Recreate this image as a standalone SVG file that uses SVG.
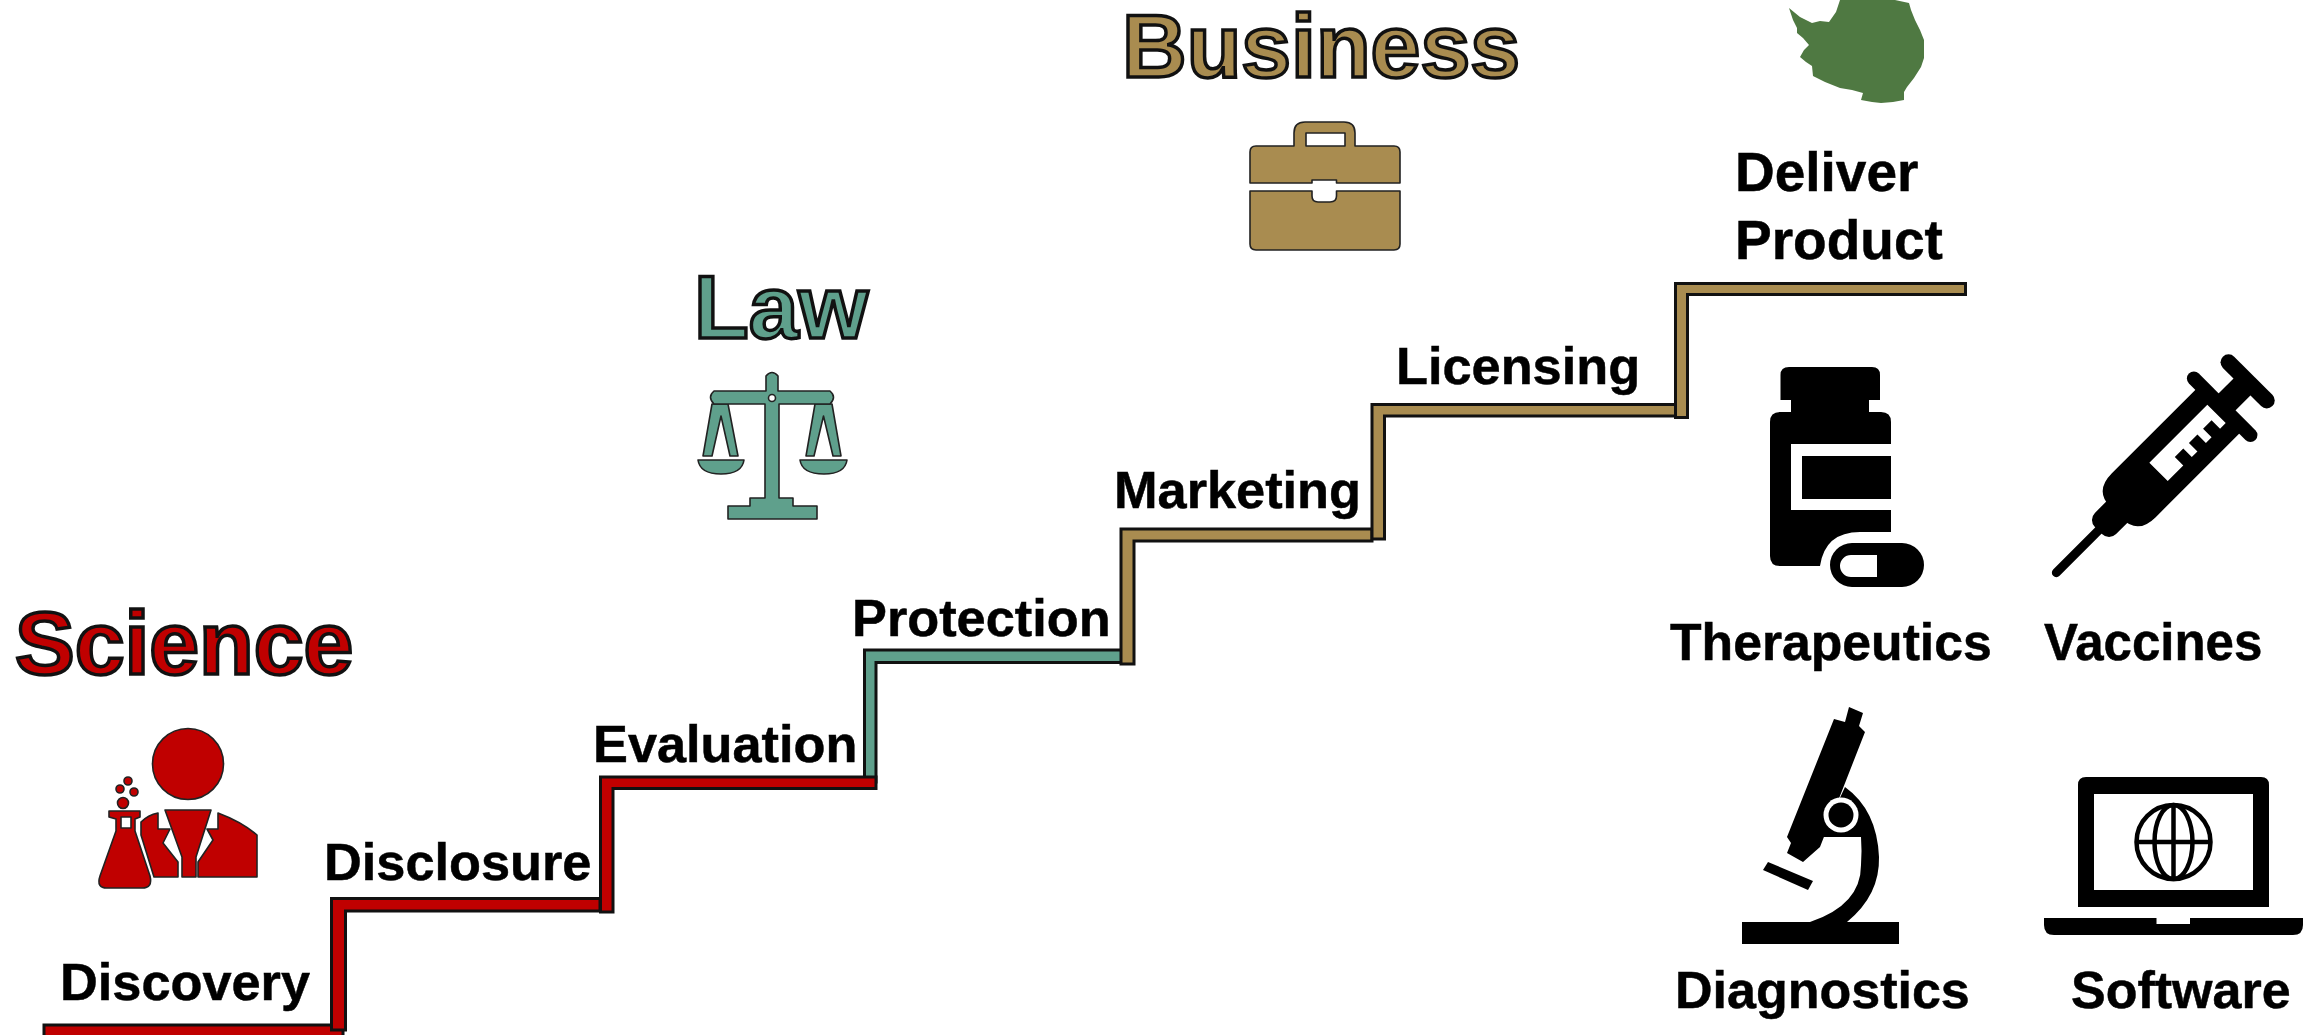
<svg xmlns="http://www.w3.org/2000/svg" width="2316" height="1035" viewBox="0 0 2316 1035">
<style>
text{font-family:"Liberation Sans",Arial,sans-serif;font-weight:700}
.l{font-size:52.300px;fill:#000;stroke:#000;stroke-width:.5px}
.m{font-size:51.700px}
.d{font-size:55px}
.t{font-size:89.500px;stroke:#111;stroke-width:3.500px}
.s{stroke:#111;stroke-width:3px;stroke-linejoin:miter}
.r{fill:#c00000}.g{fill:#5fa08c}.b{fill:#a98c50}
.ic{stroke:#222;stroke-width:1.600px;stroke-linejoin:round}
</style>
<rect width="2316" height="1035" fill="#fff"/>
<g id="connectors">
<path class="s r" d="M44 1040V1025H343V1040Z"/>
<path class="s r" d="M331.500 1030V898.500H600V911H345.500V1030Z"/>
<path class="s g" d="M864.500 782V650H1122V662.500H876V782Z"/>
<path class="s r" d="M600.500 912V777H876V788.500H613V912Z"/>
<path class="s b" d="M1121 664V529H1372V541H1134V664Z"/>
<path class="s b" d="M1372 539V404.500H1676V416H1384.500V539Z"/>
<path class="s b" d="M1675.500 417.500V283.500H1965.500V294.500H1687.500V417.500Z"/>
</g>
<g id="science">
<text class="t r" x="15" y="674">Science</text>
<g id="science-icon" class="ic r">
<circle cx="188" cy="764" r="35.500"/>
<circle cx="128" cy="781" r="4"/><circle cx="120" cy="789" r="4"/><circle cx="134" cy="792" r="4"/><circle cx="123" cy="803" r="5.500"/>
<path fill-rule="evenodd" d="M109 811H140V817L135 819V831L150 876Q153 888 142 888H107Q96 888 100 876L116 831V819L109 817ZM121 817V828H131V817Z"/>
<path d="M141 822Q148 815 158 813V829H170L163 843L178 862V877H154L141 835Z"/>
<path d="M165 810H211L196 857V877H182V857Z"/>
<path d="M218 813Q242 822 257 835V877H198V862L213 840L207 829H218Z"/>
</g>
</g>
<g id="law">
<text class="t g" x="694" y="338">Law</text>
<g id="law-icon" class="ic g">
<path d="M703 456L712 404H728L738 456H730L721 416L712 456Z"/>
<path d="M806 456L815 404H832L841 456H833L823.500 416L814 456Z"/>
<path d="M698 460H744Q742 474 721 474Q700 474 698 460Z"/>
<path d="M800 460H847Q845 474 824 474Q802 474 800 460Z"/>
<path d="M766 376Q772 369 778 376V391H830Q837 397 830 404H779V498H793V506H817V519H728V506H750V498H765V404H714Q707 397 714 391H766Z"/>
<circle cx="772" cy="398" r="3.500" fill="#fff"/>
</g>
</g>
<g id="business">
<text class="t b" x="1122" y="77">Business</text>
<g id="business-icon" class="ic b">
<path fill-rule="evenodd" d="M1294 146V133Q1294 122 1305 122H1344Q1355 122 1355 133V146H1394Q1400 146 1400 152V183H1336.500V180H1312V183H1250V152Q1250 146 1256 146ZM1306 146H1345V133H1306Z"/>
<path d="M1250 191H1312V196Q1312 202 1318 202H1330Q1336.500 202 1336.500 196V191H1400V244Q1400 250 1394 250H1256Q1250 250 1250 244Z"/>
</g>
</g>
<g id="product">
<path id="antarctica" fill="#4f7942" d="M1840 0L1836 12L1829 22L1820 21L1812 23L1800 17L1789 8L1793 20L1797 28V33L1803 38L1809 45L1804 50L1800 57L1806 62L1812 66L1813 76L1825 82L1840 88L1852 90L1863 93L1861 100L1872 102L1881 103L1893 102L1904 100L1904 92L1907 87L1914 78L1921 67L1924 58V40L1920 30L1915 20L1911 10L1909 3L1895 0Z"/>
<text class="l d" x="1735" y="191">Deliver</text>
<text class="l d" x="1735" y="259">Product</text>
</g>
<g id="therapeutics">
<path fill-rule="evenodd" d="M1780.500 375Q1780.500 367 1789 367H1872Q1880 367 1880 375V400H1869V412H1881Q1891 412 1891 422V444H1791V510H1891V532H1860Q1825 532 1820 566H1780Q1770 566 1770 556V422Q1770 412 1780 412H1791V400H1780.500Z"/>
<rect x="1802" y="456" width="89" height="43"/>
<path fill-rule="evenodd" d="M1852 543H1902A22 22 0 0 1 1902 587H1852A22 22 0 0 1 1852 543ZM1851 555A11 11 0 0 0 1851 577H1877V555Z"/>
<text class="l m" x="1670" y="660">Therapeutics</text>
</g>
<g id="vaccines">
<g transform="translate(2056 573) rotate(-45)">
<rect x="-4" y="-4.500" width="80" height="9" rx="4.500"/>
<rect x="60" y="-15" width="40" height="30" rx="10"/>
<path d="M235 -31H110Q85 -31 85 -8V8Q85 31 110 31H235Z"/>
<rect x="228" y="-47" width="14" height="94" rx="7"/>
<rect x="235" y="-12" width="36" height="24"/>
<rect x="263" y="-35" width="16" height="70" rx="8"/>
<path fill="#fff" d="M144 -12H226V14H218V2H206V14H198V2H186V14H178V2H166V14H144Z"/>
</g>
<text class="l" style="font-size:51px" x="2044" y="660">Vaccines</text>
</g>
<g id="diagnostics">
<rect x="1742" y="922" width="157" height="22"/>
<path d="M1849 707L1863 713L1859 726L1865 732L1820 847L1803 862L1787 853L1791 843L1787 837L1834 719L1845 722Z"/>
<path d="M1845 787Q1877 810 1879 857Q1880 895 1847 922H1810Q1861 905 1861 865Q1862 850 1861 837H1822L1825 830Z"/>
<circle cx="1841" cy="815" r="17.500" fill="#fff"/>
<circle cx="1841" cy="815" r="12.500"/>
<path d="M1768 862L1813 881L1808 890L1763 870Z"/>
<text class="l" style="font-size:52px" x="1675" y="1008">Diagnostics</text>
</g>
<g id="software">
<path fill-rule="evenodd" d="M2086 777H2261Q2269 777 2269 785V907H2078V785Q2078 777 2086 777ZM2094 794V890H2253V794Z"/>
<g fill="none" stroke="#000" stroke-width="4.500">
<circle cx="2173.500" cy="842" r="37"/>
<ellipse cx="2173.500" cy="842" rx="19" ry="37"/>
<path d="M2173.500 805V879M2136.500 842H2210.500"/>
</g>
<path d="M2044 918H2156.500V924H2190V918H2303V925Q2303 935 2293 935H2054Q2044 935 2044 925Z"/>
<text class="l" style="font-size:52px" x="2071" y="1008">Software</text>
</g>
<g id="steps">
<text class="l" x="60" y="1000">Discovery</text>
<text class="l" x="324" y="880">Disclosure</text>
<text class="l" x="593" y="762">Evaluation</text>
<text class="l" x="852" y="636">Protection</text>
<text class="l" x="1114" y="508">Marketing</text>
<text class="l" x="1396" y="384">Licensing</text>
</g>
</svg>
